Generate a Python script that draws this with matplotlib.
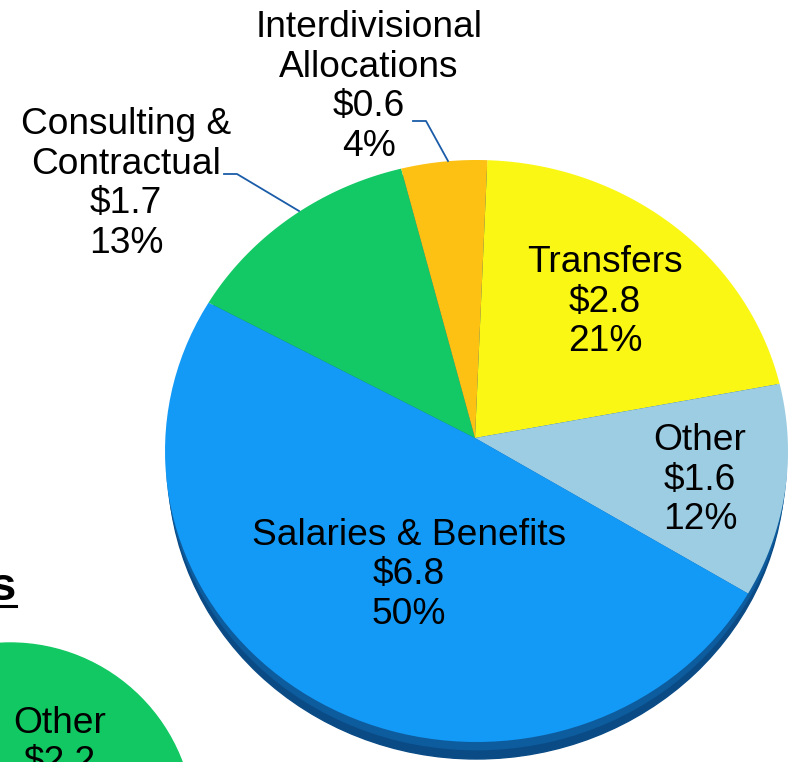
import matplotlib
matplotlib.use("Agg")
import matplotlib.pyplot as plt
import numpy as np
from matplotlib.patches import Ellipse, Circle, Polygon

plt.rcParams['font.family'] = ['Liberation Sans', 'DejaVu Sans']

# expenditures ($ millions), clockwise from the top
categories = ['Transfers', 'Other', 'Salaries & Benefits',
              'Consulting &\nContractual', 'Interdivisional\nAllocations']
values = [2.8, 1.6, 6.8, 1.7, 0.6]
colors = ['#FAF714', '#9DCDE3', '#139AF7', '#13C965', '#FCC112']

# second (cut off) chart in the lower left corner
other_label = 'Other'
other_value = 2.2

W, H = 790, 762
fig = plt.figure(figsize=(W / 100, H / 100), dpi=100)

# ellipse of the pie top in pixels
cx, cy, rx, ry = 476.5, 451, 311.5, 291
ax = fig.add_axes([(cx - rx) / W, (H - cy - ry) / H, 2 * rx / W, 2 * ry / H])
depth = 17 / ry
ax.add_patch(Ellipse((0, -depth), 1.98, 2, color='#0A4B86', zorder=0, clip_on=False))
ax.add_patch(Ellipse((0, -depth * 0.45), 1.99, 2, color='#0D5C9E', zorder=0, clip_on=False))
wedges, _ = ax.pie(values, colors=colors, startangle=88, counterclock=False,
                   radius=1, wedgeprops=dict(linewidth=0))
# tilted look: the apex sits a little above the ellipse centre
apex = (-1.5 / rx, 13 / ry)
for w in wedges:
    t = np.radians(np.linspace(w.theta1, w.theta2, 80))
    pts = np.column_stack([np.cos(t), np.sin(t)])
    pts = np.vstack([apex, pts])
    ax.add_patch(Polygon(pts, closed=True, facecolor=w.get_facecolor(),
                         edgecolor='none', zorder=2, clip_on=False))
    w.remove()
ax.set_aspect('auto')
ax.set_xlim(-1, 1)
ax.set_ylim(-1, 1)
ax.axis('off')

# overlay in pixel coordinates for labels
ov = fig.add_axes([0, 0, 1, 1])
ov.set_xlim(0, W)
ov.set_ylim(H, 0)
ov.axis('off')
ov.patch.set_alpha(0)

total = sum(values)
fs = 26.7
ls = 1.17
label_pos = [(605, 302), (700, 480), (409, 575), (126, 184), (369, 87)]
for cat, v, (x, y) in zip(categories, values, label_pos):
    ov.text(x, y, f'{cat}\n${v:.1f}\n{round(v / total * 100):.0f}%',
            ha='center', va='center', fontsize=fs, linespacing=ls, color='black')

# leader lines
lead = '#1A5CA8'
ov.plot([413, 426, 448], [121, 121, 161], color=lead, lw=1.3)
ov.plot([224, 237, 299], [174, 174, 211], color=lead, lw=1.3)

# partial second chart and title
ov.add_patch(Circle((10, 827), 184, color='#12C862', zorder=1))
ov.text(60, 743, f'{other_label}\n${other_value:.1f}', ha='center', va='center',
        fontsize=fs, linespacing=ls, zorder=3)
ov.text(16, 588, 's', ha='right', va='center', fontsize=34, fontweight='bold')
ov.plot([0, 16], [606, 606], color='black', lw=2.2)

fig.savefig('out.png', dpi=100)
